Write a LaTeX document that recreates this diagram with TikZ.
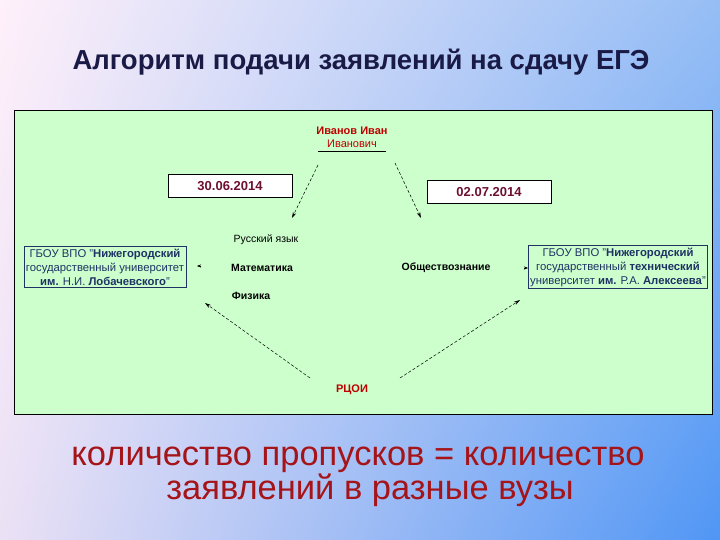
\documentclass[tikz,border=0pt]{standalone}
\usepackage{fontspec}
\setmainfont{Liberation Sans}
\usetikzlibrary{arrows.meta,shadings}
\definecolor{panel}{RGB}{204,255,204}
\definecolor{titlec}{RGB}{26,26,70}
\definecolor{datec}{RGB}{110,16,50}
\definecolor{uni}{RGB}{30,50,100}
\definecolor{redc}{RGB}{190,0,0}
\definecolor{bottomc}{RGB}{165,20,25}
\definecolor{bgul}{RGB}{255,240,250}
\definecolor{bgur}{RGB}{150,190,245}
\definecolor{bgll}{RGB}{235,225,245}
\definecolor{bglr}{RGB}{80,150,245}
\tikzset{
  datebox/.style={draw=black,fill=white,line width=0.8pt,minimum width=124pt,minimum height=23pt,font=\fontsize{13}{15}\selectfont\bfseries,text=datec},
  unibox/.style={draw=uni,line width=0.8pt,align=center,font=\fontsize{11.3}{14}\selectfont,text=uni,inner sep=2pt},
  subj/.style={font=\fontsize{10.5}{12}\selectfont\bfseries,text=black},
  arr/.style={-{Stealth[length=6pt,width=3.5pt]},densely dashed,line width=0.5pt},
}
\begin{document}
\begin{tikzpicture}[x=1pt,y=-1pt]
\useasboundingbox (0,0) rectangle (720,540);
\shade[upper left=bgul,upper right=bgur,lower left=bgll,lower right=bglr] (0,0) rectangle (720,540);
\node[font=\fontsize{27.5}{32}\selectfont\bfseries,text=titlec] (title) at (361,62) {Алгоритм подачи заявлений на сдачу ЕГЭ};
\draw[fill=panel,line width=0.8pt] (14,110) rectangle (712,414);
\node[font=\fontsize{11}{12}\selectfont\bfseries,text=redc] (ivan) at (352,131) {Иванов Иван};
\node[font=\fontsize{11}{12}\selectfont,text=redc] (otch) at (352,144) {Иванович};
\draw (318,151) -- (386,151);
\coordinate (ua) at (318,165); \coordinate (ub) at (395,163);
\node[datebox] (d1) at (230,186) {30.06.2014};
\node[datebox] (d2) at (489,192) {02.07.2014};
\node[unibox] (u1) at (105,267) {ГБОУ ВПО "\textbf{Нижегородский}\\государственный университет\\\textbf{им.} Н.И. \textbf{Лобачевского}"};
\node[unibox] (u2) at (618,267) {ГБОУ ВПО "\textbf{Нижегородский}\\государственный \textbf{технический}\\университет \textbf{им.} Р.А. \textbf{Алексеева}"};
\node[subj,font=\fontsize{10.5}{12}\selectfont] (rus) at (266,240) {Русский язык};
\node[subj] (mat) at (262,268) {Математика};
\node[subj] (fiz) at (251,296) {Физика};
\node[subj] (obs) at (446,268) {Обществознание};
\node[font=\fontsize{11}{12}\selectfont\bfseries,text=redc] (rcoi) at (352,390) {РЦОИ};
\coordinate (t1) at (292,218); \coordinate (t2) at (421,218);
\coordinate (b1s) at (310,378); \coordinate (b1e) at (205,303);
\coordinate (b2s) at (400,378); \coordinate (b2e) at (520,300);
\draw[arr] (ua) -- (t1);
\draw[arr] (ub) -- (t2);
\draw[arr] (b1s) -- (b1e);
\draw[arr] (b2s) -- (b2e);
\coordinate (la) at (201,266); \coordinate (lb) at (197,266);
\coordinate (ra) at (524,268); \coordinate (rb) at (528,268);
\draw[-{Stealth[length=4pt,width=3pt]}] (la) -- (lb);
\draw[-{Stealth[length=4pt,width=3pt]}] (ra) -- (rb);
\node[font=\fontsize{34.5}{31}\selectfont,text=bottomc,align=center] (bot) at (358,477) {количество пропусков = количество\\\hspace*{0.7em}заявлений в разные вузы};
\end{tikzpicture}
\end{document}
